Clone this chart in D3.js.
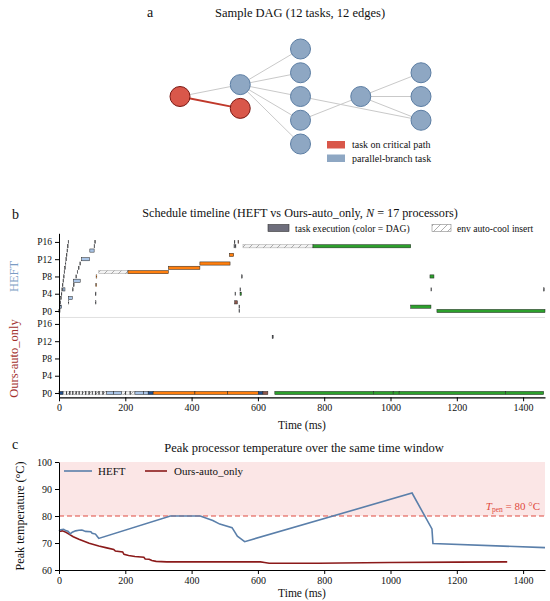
<!DOCTYPE html>
<html>
<head>
<meta charset="utf-8">
<script src="https://cdn.jsdelivr.net/npm/d3@7"></script>
<style>
  body { margin: 0; background: #fff; }
  svg text { font-family: "Liberation Serif", "DejaVu Serif", serif; fill: #111; }
</style>
</head>
<body>
<div id="vis"></div>
<script>
// ---- panel a : sample DAG ----
const dagNodes = [
  { layer: 0, slot: 0, crit: true },
  { layer: 1, slot: -0.5, crit: false },
  { layer: 1, slot: 0.5, crit: true },
  { layer: 2, slot: -2, crit: false },
  { layer: 2, slot: -1, crit: false },
  { layer: 2, slot: 0, crit: false },
  { layer: 2, slot: 1, crit: false },
  { layer: 2, slot: 2, crit: false },
  { layer: 3, slot: 0, crit: false },
  { layer: 4, slot: -1, crit: false },
  { layer: 4, slot: 0, crit: false },
  { layer: 4, slot: 1, crit: false }
];
const dagEdges = [[0, 1], [0, 2], [1, 3], [1, 4], [1, 5], [1, 6], [1, 7], [5, 11], [6, 8], [8, 9], [8, 10], [8, 11]];
const dagLegend = ["task on critical path", "parallel-branch task"];

// ---- panel b : schedule (proc, start ms, end ms, dag colour) ----
const heftTasks = [
  [0, 0, 1.2, 5], [1, 1.8, 3, 5], [2, 3.5, 4.7, 5], [3, 5.2, 6.4, 5], [4, 7, 8.2, 5], [5, 8.7, 9.9, 5],
  [6, 10.4, 11.6, 5], [7, 12.1, 13.3, 5], [8, 13.9, 15.1, 5], [9, 15.6, 16.8, 5], [10, 17.3, 18.5, 5],
  [11, 19, 20.2, 5], [12, 20.8, 22, 5], [13, 22.5, 23.7, 5], [14, 24.2, 25.4, 5], [15, 25.9, 27.1, 5],
  [16, 27.7, 28.9, 5],
  [0, 0, 3, 0], [1, 3, 8, 1], [5, 12, 18, 1], [2, 28, 29.2, 5], [3, 28, 40, 1],
  [5, 41, 42.2, 5], [6, 44, 45.2, 5], [7, 43, 64, 1], [8, 51, 52.2, 5], [9, 55, 56.2, 5],
  [10, 59, 60.2, 5], [11, 63, 64.2, 5], [12, 68, 92, 1], [14, 93, 106, 1],
  [15, 106, 107.2, 5], [16, 108, 109.2, 5],
  [2, 110, 111.2, 5], [4, 110, 111.2, 5], [6, 111, 113, 2], [8, 112, 114, 2],
  [9, 208, 330, 2], [10, 330, 425, 2], [11, 425, 516, 2], [13, 514, 527, 2],
  [15, 528, 529.2, 5], [16, 529, 530.2, 5], [15, 532, 533.2, 5], [16, 540, 542, 4],
  [2, 530, 538, 4], [4, 531, 532.2, 5], [5, 546, 547.2, 5], [4, 546, 550, 3],
  [8, 551, 552.2, 5], [1, 543, 544.2, 5], [0, 543, 544.2, 5],
  [15, 766, 1061, 3], [1, 1061, 1122, 3], [8, 1119, 1131, 3], [5, 1122, 1123.2, 5],
  [0, 1140, 1466, 3], [5, 1462, 1463.2, 5]
];
const heftCool = [[9, 120, 208], [15, 555, 766]];

const oursTasks = [
  [0, 0, 12, 0],
  [0, 22, 23, 5], [0, 32, 33, 5], [0, 41, 42, 5], [0, 51, 52, 5], [0, 60, 61, 5], [0, 70, 71, 5],
  [0, 80, 81, 5], [0, 90, 91, 5], [0, 100, 101, 5], [0, 110, 111, 5], [0, 120, 121, 5], [0, 132, 133, 5],
  [0, 144, 165, 1], [0, 165, 189, 1], [0, 200, 201, 5], [0, 214, 215, 5],
  [0, 229, 255, 1], [0, 255, 269, 1], [0, 269, 284, 0],
  [0, 284, 410, 2], [0, 410, 509, 2], [0, 509, 601, 2], [0, 601, 615, 0], [0, 615, 630, 4],
  [13, 643, 646, 5],
  [0, 651, 948, 3], [0, 948, 1008, 3], [0, 1008, 1026, 3], [0, 1026, 1347, 3], [0, 1347, 1462, 3]
];
const oursCool = [[0, 13, 144], [0, 189, 229]];

const dagColors = ["#1f4e8c", "#a9c4e6", "#ff7f0e", "#2ca02c", "#8c564b", "#4b4f5c"];
const procTicks = [0, 4, 8, 12, 16];
const heftOffset = 19;
const timeTicks = [0, 200, 400, 600, 800, 1000, 1200, 1400];

// ---- panel c : peak temperature (ms, degC) ----
const heftTemp = [
  [0, 74.5], [5, 74.9], [14, 75.1], [20, 74.6], [27, 74.4], [34, 73.4], [40, 74.0], [50, 74.5],
  [60, 74.7], [69, 74.8], [75, 74.5], [80, 74.3], [96, 74.2], [100, 73.6], [110, 73.3], [115, 72.5],
  [120, 71.7], [336, 80.0], [426, 80.0], [464, 78.3], [485, 77.0], [522, 75.7], [530, 74.1],
  [538, 72.5], [549, 71.5], [560, 70.5], [1065, 88.5], [1125, 75.2], [1128, 69.8], [1466, 68.3]
];
const oursTemp = [
  [0, 74.3], [10, 74.5], [21, 74.0], [30, 73.3], [43, 72.3], [60, 71.4], [91, 69.9], [120, 68.9],
  [144, 68.2], [165, 67.6], [170, 67.0], [192, 66.7], [196, 65.8], [210, 65.4], [229, 65.0],
  [256, 64.7], [260, 64.1], [272, 64.0], [280, 63.5], [293, 63.2], [325, 63.0], [464, 63.0],
  [608, 63.0], [620, 62.8], [634, 62.5], [784, 62.5], [850, 62.6], [997, 62.8], [1200, 62.9], [1352, 63.0]
];
const tempTicks = [60, 70, 80, 90, 100];
const tPen = 80;

const svg = d3.select("#vis").append("svg")
  .attr("width", 550)
  .attr("height", 601);

// hatch pattern for auto-cool inserts
svg.append("defs").append("pattern")
  .attr("id", "hatch")
  .attr("patternUnits", "userSpaceOnUse")
  .attr("width", 7).attr("height", 7)
  .append("path")
  .attr("d", "M0,7 L7,0")
  .attr("stroke", "#8a8a8a")
  .attr("stroke-width", 0.7);

// ================= panel a =================
svg.append("text").attr("x", 147).attr("y", 17).attr("font-size", 14).text("a");
svg.append("text").attr("x", 300).attr("y", 17).attr("text-anchor", "middle")
  .attr("font-size", 12.5).text("Sample DAG (12 tasks, 12 edges)");

const lx = d3.scaleLinear().domain([0, 4]).range([180, 421]);
const ly = d3.scaleLinear().domain([-2, 2]).range([49, 144]);

svg.append("g").selectAll("line")
  .data(dagEdges)
  .join("line")
  .attr("x1", d => lx(dagNodes[d[0]].layer))
  .attr("y1", d => ly(dagNodes[d[0]].slot))
  .attr("x2", d => lx(dagNodes[d[1]].layer))
  .attr("y2", d => ly(dagNodes[d[1]].slot))
  .attr("stroke", d => dagNodes[d[0]].crit && dagNodes[d[1]].crit ? "#c0392b" : "#c9c9c9")
  .attr("stroke-width", d => dagNodes[d[0]].crit && dagNodes[d[1]].crit ? 2 : 1);

svg.append("g").selectAll("circle")
  .data(dagNodes)
  .join("circle")
  .attr("cx", d => lx(d.layer))
  .attr("cy", d => ly(d.slot))
  .attr("r", 10)
  .attr("fill", d => d.crit ? "#d9574a" : "#8ea7c3")
  .attr("stroke", d => d.crit ? "#7a1712" : "#5b7da3")
  .attr("stroke-width", 1);

const dagLeg = svg.append("g").selectAll("g")
  .data(dagLegend)
  .join("g")
  .attr("transform", (d, i) => `translate(327,${141 + i * 13.5})`);
dagLeg.append("rect").attr("width", 18).attr("height", 7.5)
  .attr("fill", (d, i) => i === 0 ? "#d9574a" : "#8ea7c3");
dagLeg.append("text").attr("x", 25).attr("y", 7).attr("font-size", 10).text(d => d);

// ================= panel b =================
const xB = d3.scaleLinear().domain([0, 1466]).range([59, 545]);
const yB = d3.scaleLinear().domain([-1, 37]).range([397.3, 233.3]);
const halfBar = 0.37;

svg.append("text").attr("x", 12).attr("y", 219).attr("font-size", 14).text("b");
const titleB = svg.append("text").attr("x", 300).attr("y", 217).attr("text-anchor", "middle").attr("font-size", 12.2);
titleB.append("tspan").text("Schedule timeline (HEFT vs Ours-auto_only, ");
titleB.append("tspan").attr("font-style", "italic").text("N");
titleB.append("tspan").text(" = 17 processors)");

// legend
svg.append("rect").attr("x", 268).attr("y", 224.5).attr("width", 21).attr("height", 7)
  .attr("fill", "#6e6e7c").attr("stroke", "#333").attr("stroke-width", 0.6);
svg.append("text").attr("x", 295).attr("y", 231.5).attr("font-size", 9.6).text("task execution (color = DAG)");
svg.append("rect").attr("x", 432).attr("y", 224.5).attr("width", 19).attr("height", 7)
  .attr("fill", "url(#hatch)").attr("stroke", "#888").attr("stroke-width", 0.6);
svg.append("text").attr("x", 457).attr("y", 231.5).attr("font-size", 9.6).text("env auto-cool insert");

// separator between the two schedulers
svg.append("line")
  .attr("x1", xB(0)).attr("x2", xB(1466))
  .attr("y1", yB(17.5)).attr("y2", yB(17.5))
  .attr("stroke", "#d8d8d8").attr("stroke-width", 0.8);

function drawCool(rows, offset) {
  svg.append("g").selectAll("rect")
    .data(rows)
    .join("rect")
    .attr("x", d => xB(d[1]))
    .attr("y", d => yB(d[0] + offset + halfBar))
    .attr("width", d => xB(d[2]) - xB(d[1]))
    .attr("height", yB(0) - yB(2 * halfBar))
    .attr("fill", "#f3f3f3")
    .attr("stroke", "#a0a0a0")
    .attr("stroke-width", 0.5);
  svg.append("g").selectAll("rect")
    .data(rows)
    .join("rect")
    .attr("x", d => xB(d[1]))
    .attr("y", d => yB(d[0] + offset + halfBar))
    .attr("width", d => xB(d[2]) - xB(d[1]))
    .attr("height", yB(0) - yB(2 * halfBar))
    .attr("fill", "url(#hatch)");
}

function drawTasks(rows, offset) {
  svg.append("g").selectAll("rect")
    .data(rows)
    .join("rect")
    .attr("x", d => xB(d[1]))
    .attr("y", d => yB(d[0] + offset + halfBar))
    .attr("width", d => Math.max(xB(d[2]) - xB(d[1]), 0.5))
    .attr("height", yB(0) - yB(2 * halfBar))
    .attr("fill", d => dagColors[d[3]])
    .attr("stroke", "#222")
    .attr("stroke-width", 0.5);
}

drawCool(heftCool, heftOffset);
drawTasks(heftTasks, heftOffset);
drawCool(oursCool, 0);
drawTasks(oursTasks, 0);

const yAxisB = svg.append("g")
  .attr("transform", `translate(${xB(0)},0)`)
  .call(d3.axisLeft(yB)
    .tickValues(procTicks.concat(procTicks.map(p => p + heftOffset)))
    .tickFormat(v => "P" + (v >= heftOffset ? v - heftOffset : v))
    .tickSize(4)
    .tickSizeOuter(0));
yAxisB.selectAll("text").attr("font-size", 9.5).attr("font-family", "Liberation Serif");

const xAxisB = svg.append("g")
  .attr("transform", `translate(0,${yB(-1)})`)
  .call(d3.axisBottom(xB).tickValues(timeTicks).tickFormat(d3.format("d")).tickSize(4).tickSizeOuter(0));
xAxisB.selectAll("text").attr("font-size", 10).attr("font-family", "Liberation Serif");
xAxisB.select(".domain").attr("stroke-width", 1.2);

svg.append("text").attr("x", xB(733)).attr("y", 429).attr("text-anchor", "middle")
  .attr("font-size", 11.5).text("Time (ms)");

svg.append("text")
  .attr("transform", `translate(18,${yB(27)}) rotate(-90)`)
  .attr("text-anchor", "middle").attr("font-size", 12.5)
  .style("fill", "#7b9cc4").text("HEFT");
svg.append("text")
  .attr("transform", `translate(18,${yB(8)}) rotate(-90)`)
  .attr("text-anchor", "middle").attr("font-size", 12.5)
  .style("fill", "#a3302c").text("Ours-auto_only");

// ================= panel c =================
const xC = d3.scaleLinear().domain([0, 1466]).range([59, 545]);
const yC = d3.scaleLinear().domain([60, 100]).range([570, 462]);

svg.append("text").attr("x", 12).attr("y", 449).attr("font-size", 14).text("c");
svg.append("text").attr("x", 304).attr("y", 452).attr("text-anchor", "middle")
  .attr("font-size", 12.5).text("Peak processor temperature over the same time window");

svg.append("rect")
  .attr("x", xC(0)).attr("y", yC(100))
  .attr("width", xC(1466) - xC(0)).attr("height", yC(tPen) - yC(100))
  .attr("fill", "#fbe6e6");

svg.append("line")
  .attr("x1", xC(0)).attr("x2", xC(1466))
  .attr("y1", yC(tPen)).attr("y2", yC(tPen))
  .attr("stroke", "#e04a40").attr("stroke-width", 1.2)
  .attr("stroke-dasharray", "5,3");

const penLabel = svg.append("text").attr("x", 540).attr("y", yC(tPen) - 6)
  .attr("text-anchor", "end").attr("font-size", 11);
penLabel.append("tspan").attr("font-style", "italic").style("fill", "#e04a40").text("T");
penLabel.append("tspan").attr("font-size", 7.5).attr("dy", 2).style("fill", "#e04a40").text("pen");
penLabel.append("tspan").attr("dy", -2).style("fill", "#e04a40").text(" = 80 °C");

const line = d3.line().x(d => xC(d[0])).y(d => yC(d[1]));

svg.append("path").datum(oursTemp).attr("d", line)
  .attr("fill", "none").attr("stroke", "#8b1a1a").attr("stroke-width", 1.6);
svg.append("path").datum(heftTemp).attr("d", line)
  .attr("fill", "none").attr("stroke", "#5a7faa").attr("stroke-width", 1.6);

// legend
svg.append("line").attr("x1", 64).attr("x2", 92).attr("y1", 471).attr("y2", 471)
  .attr("stroke", "#5a7faa").attr("stroke-width", 1.6);
svg.append("text").attr("x", 98).attr("y", 474.5).attr("font-size", 11).text("HEFT");
svg.append("line").attr("x1", 145).attr("x2", 167).attr("y1", 471).attr("y2", 471)
  .attr("stroke", "#8b1a1a").attr("stroke-width", 1.6);
svg.append("text").attr("x", 174).attr("y", 474.5).attr("font-size", 11).text("Ours-auto_only");

const yAxisC = svg.append("g")
  .attr("transform", `translate(${xC(0)},0)`)
  .call(d3.axisLeft(yC).tickValues(tempTicks).tickSize(4).tickSizeOuter(0));
yAxisC.selectAll("text").attr("font-size", 10).attr("font-family", "Liberation Serif");

const xAxisC = svg.append("g")
  .attr("transform", `translate(0,${yC(60)})`)
  .call(d3.axisBottom(xC).tickValues(timeTicks).tickFormat(d3.format("d")).tickSize(4).tickSizeOuter(0));
xAxisC.selectAll("text").attr("font-size", 10).attr("font-family", "Liberation Serif");

svg.append("text").attr("x", xC(733)).attr("y", 597).attr("text-anchor", "middle")
  .attr("font-size", 11.5).text("Time (ms)");
svg.append("text")
  .attr("transform", `translate(24,${yC(80)}) rotate(-90)`)
  .attr("text-anchor", "middle").attr("font-size", 12.2)
  .text("Peak temperature (°C)");
</script>
</body>
</html>
